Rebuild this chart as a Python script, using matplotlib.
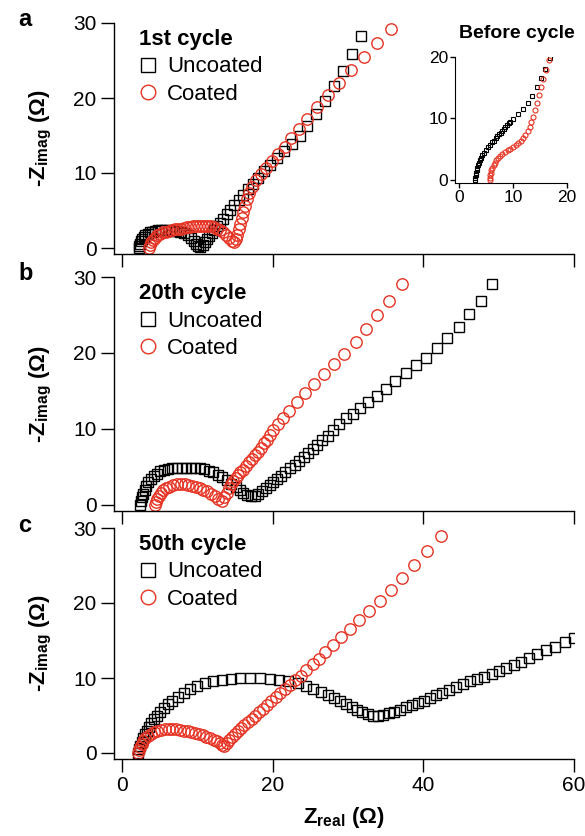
import matplotlib
matplotlib.use("Agg")
import matplotlib.pyplot as plt
from matplotlib.lines import Line2D

plt.rcParams['font.family'] = ['Liberation Sans', 'DejaVu Sans']
plt.rcParams['mathtext.fontset'] = 'custom'
plt.rcParams['mathtext.rm'] = 'Liberation Sans'
plt.rcParams['mathtext.bf'] = 'Liberation Sans:bold'

RED = '#e63323'

# ---- data (Zreal, -Zimag in ohm) ----
# panel a, 1st cycle
a_unc_x = [2.2, 2.3, 2.4, 2.5, 2.7, 2.9, 3.1, 3.4, 3.7, 4.0, 4.4, 4.8, 5.2, 5.7, 6.2, 6.7,
           7.2, 7.7, 8.2, 8.7, 9.1, 9.5, 9.8, 10.1, 10.4, 10.7, 11.0, 11.3, 11.6, 11.9, 12.2,
           12.6, 13.0, 13.4, 13.9, 14.4, 14.9, 15.5, 16.1, 16.7, 17.4, 18.1, 18.9, 19.7, 20.6,
           21.5, 22.6, 23.6, 24.6, 25.7, 26.9, 28.1, 29.3, 30.5, 31.7]
a_unc_y = [0.0, 0.3, 0.6, 0.9, 1.2, 1.5, 1.7, 1.9, 2.1, 2.2, 2.3, 2.4, 2.4, 2.4, 2.4, 2.3,
           2.3, 2.2, 2.0, 1.8, 1.4, 1.0, 0.6, 0.3, 0.2, 0.4, 0.8, 1.2, 1.6, 2.0, 2.4,
           2.9, 3.4, 3.9, 4.5, 5.1, 5.7, 6.4, 7.1, 7.8, 8.5, 9.3, 10.2, 11.0, 12.0,
           12.9, 13.8, 14.9, 16.2, 17.8, 19.6, 21.6, 23.6, 25.8, 28.2]
a_coat_x = [3.6, 3.7, 3.9, 4.1, 4.4, 4.7, 5.0, 5.4, 5.8, 6.2, 6.6, 7.0, 7.4, 7.8, 8.2, 8.6,
            9.0, 9.4, 9.8, 10.2, 10.6, 11.0, 11.4, 11.8, 12.2, 12.6, 13.0, 13.4, 13.8, 14.2,
            14.6, 14.9, 15.1, 15.3, 15.5, 15.7, 15.9, 16.1, 16.3, 16.6, 16.9, 17.3, 17.8,
            18.4, 19.1, 19.9, 20.7, 21.6, 22.5, 23.5, 24.6, 25.9, 27.3, 28.8, 30.4, 32.1,
            33.9, 35.7]
a_coat_y = [0.0, 0.4, 0.8, 1.1, 1.4, 1.7, 1.9, 2.1, 2.2, 2.3, 2.4, 2.5, 2.6, 2.6, 2.7, 2.8,
            2.8, 2.9, 2.9, 3.0, 3.0, 3.0, 3.0, 2.9, 2.8, 2.6, 2.4, 2.1, 1.7, 1.3,
            0.9, 0.8, 1.2, 1.8, 2.5, 3.2, 4.0, 4.8, 5.6, 6.5, 7.3, 8.1, 9.0,
            9.8, 10.7, 11.6, 12.5, 13.5, 14.6, 15.8, 17.2, 18.8, 20.4, 22.0, 23.7, 25.5,
            27.3, 29.2]

# inset, before cycling
i_unc_x = [3.0, 3.05, 3.1, 3.2, 3.3, 3.4, 3.5, 3.7, 3.9, 4.1, 4.3, 4.6, 5.0, 5.4, 5.7, 6.1,
           6.4, 6.8, 7.1, 7.4, 7.7, 8.0, 8.3, 8.6, 8.9, 9.2, 9.5, 10.0, 10.9, 11.8, 12.8,
           13.5, 14.4, 15.2, 15.9, 16.9]
i_unc_y = [0.0, 0.4, 0.8, 1.2, 1.6, 2.0, 2.4, 2.8, 3.2, 3.6, 4.0, 4.4, 4.9, 5.3, 5.7, 6.1,
           6.4, 6.8, 7.1, 7.4, 7.7, 8.0, 8.3, 8.6, 8.9, 9.2, 9.5, 9.9, 10.7, 11.5, 12.5,
           13.7, 15.1, 16.6, 18.0, 19.8]
i_coat_x = [5.7, 5.75, 5.8, 5.9, 6.0, 6.2, 6.4, 6.6, 6.9, 7.2, 7.6, 8.0, 8.5, 9.0, 9.5,
            10.0, 10.5, 11.0, 11.5, 11.9, 12.3, 12.7, 13.1, 13.4, 13.7, 14.0, 14.4, 14.8,
            15.2, 15.6, 16.1, 16.7]
i_coat_y = [0.0, 0.4, 0.8, 1.2, 1.6, 2.0, 2.4, 2.8, 3.2, 3.5, 3.9, 4.2, 4.5, 4.8, 5.1,
            5.4, 5.7, 6.0, 6.4, 6.8, 7.3, 7.9, 8.6, 9.4, 10.3, 11.3, 12.6, 13.9,
            15.2, 16.5, 17.9, 19.5]

# panel b, 20th cycle
b_unc_x = [2.4, 2.5, 2.6, 2.8, 3.0, 3.2, 3.5, 3.8, 4.2, 4.6, 5.1, 5.6, 6.1, 6.7, 7.3, 7.9,
           8.5, 9.1, 9.7, 10.3, 10.9, 11.5, 12.1, 12.7, 13.3, 13.9, 14.5, 15.1, 15.6, 16.1,
           16.6, 17.1, 17.6, 18.1, 18.6, 19.1, 19.6, 20.1, 20.6, 21.1, 21.7, 22.3, 22.9,
           23.5, 24.1, 24.7, 25.3, 25.9, 26.6, 27.3, 28.0, 28.8, 29.7, 30.6, 31.6, 32.7,
           33.8, 35.1, 36.3, 37.7, 39.0, 40.4, 41.8, 43.2, 44.7, 46.1, 47.6, 49.1]
b_unc_y = [0.0, 0.5, 1.0, 1.5, 2.0, 2.5, 3.0, 3.4, 3.8, 4.1, 4.4, 4.6, 4.7, 4.8, 4.9, 4.9,
           4.9, 4.9, 4.9, 4.8, 4.7, 4.5, 4.3, 4.0, 3.7, 3.3, 2.8, 2.4, 2.0, 1.6,
           1.3, 1.2, 1.2, 1.4, 1.8, 2.2, 2.6, 3.0, 3.4, 3.8, 4.3, 4.8, 5.3,
           5.8, 6.3, 6.8, 7.3, 7.9, 8.5, 9.1, 9.8, 10.6, 11.4, 12.0, 12.8, 13.6,
           14.4, 15.3, 16.3, 17.3, 18.4, 19.4, 20.6, 22.0, 23.4, 25.1, 26.9, 29.1]
b_coat_x = [4.4, 4.5, 4.7, 4.9, 5.2, 5.5, 5.9, 6.3, 6.8, 7.3, 7.8, 8.3, 8.8, 9.3, 9.8, 10.3,
            10.8, 11.3, 11.8, 12.3, 12.8, 13.3, 13.6, 13.9, 14.2, 14.5, 14.8, 15.1, 15.4,
            15.7, 16.0, 16.4, 16.8, 17.2, 17.6, 18.0, 18.4, 18.8, 19.2, 19.6, 20.1, 20.7,
            21.4, 22.2, 23.2, 24.3, 25.5, 26.8, 28.1, 29.5, 31.0, 32.4, 33.9, 35.5, 37.2]
b_coat_y = [0.0, 0.4, 0.8, 1.2, 1.6, 1.9, 2.2, 2.4, 2.6, 2.7, 2.7, 2.7, 2.6, 2.5, 2.4, 2.2,
            2.0, 1.8, 1.5, 1.2, 0.8, 0.5, 1.0, 1.6, 2.2, 2.7, 3.2, 3.6, 4.0,
            4.3, 4.6, 5.1, 5.6, 6.1, 6.6, 7.0, 7.5, 8.1, 8.6, 9.2, 9.8, 10.6,
            11.4, 12.4, 13.5, 14.7, 15.9, 17.2, 18.5, 19.9, 21.4, 23.1, 25.0, 26.8, 29.1]

# panel c, 50th cycle
c_unc_x = [2.1, 2.2, 2.4, 2.6, 2.8, 3.0, 3.3, 3.6, 3.9, 4.3, 4.7, 5.1, 5.6, 6.1, 6.7, 7.4,
           8.2, 9.0, 10.0, 11.0, 12.1, 13.3, 14.5, 15.7, 17.0, 18.3, 19.6, 20.9, 22.1, 23.3,
           24.4, 25.4, 26.4, 27.3, 28.2, 29.0, 29.8, 30.5, 31.2, 31.9, 32.6, 33.3, 34.0,
           34.7, 35.4, 36.1, 36.9, 37.7, 38.5, 39.3, 40.1, 40.9, 41.7, 42.5, 43.4, 44.3,
           45.2, 46.2, 47.1, 48.1, 49.1, 50.0, 51.0, 52.0, 53.0, 54.0, 55.1, 56.3, 57.5,
           58.8, 60.0]
c_unc_y = [0.0, 0.5, 1.0, 1.5, 2.0, 2.5, 3.0, 3.5, 4.0, 4.5, 5.0, 5.5, 6.0, 6.5, 7.0, 7.5,
           8.0, 8.5, 8.9, 9.3, 9.6, 9.8, 9.9, 10.0, 10.0, 10.0, 9.9, 9.8, 9.6, 9.3,
           9.0, 8.6, 8.2, 7.8, 7.4, 7.0, 6.6, 6.2, 5.8, 5.5, 5.2, 5.0, 5.0,
           5.1, 5.3, 5.5, 5.8, 6.1, 6.4, 6.7, 7.0, 7.4, 7.7, 8.0, 8.4, 8.8,
           9.2, 9.6, 9.9, 10.2, 10.6, 11.0, 11.4, 11.8, 12.2, 12.7, 13.2, 13.7, 14.2,
           14.8, 15.3]
c_coat_x = [2.1, 2.2, 2.4, 2.6, 2.8, 3.1, 3.4, 3.8, 4.2, 4.7, 5.2, 5.7, 6.2, 6.7, 7.2, 7.7,
            8.2, 8.7, 9.2, 9.7, 10.2, 10.7, 11.2, 11.7, 12.2, 12.6, 13.0, 13.3, 13.6, 13.9,
            14.2, 14.6, 15.0, 15.4, 15.8, 16.2, 16.7, 17.2, 17.7, 18.2, 18.7, 19.2, 19.8,
            20.4, 21.0, 21.6, 22.3, 23.0, 23.7, 24.4, 25.3, 26.2, 27.0, 28.0, 29.1, 30.3,
            31.5, 32.8, 34.2, 35.7, 37.2, 38.8, 40.5, 42.3]
c_coat_y = [0.0, 0.4, 0.8, 1.2, 1.6, 2.0, 2.3, 2.6, 2.8, 3.0, 3.1, 3.2, 3.2, 3.2, 3.2, 3.1,
            3.0, 2.9, 2.8, 2.7, 2.5, 2.4, 2.2, 2.0, 1.8, 1.6, 1.3, 1.1, 1.0, 1.3,
            1.7, 2.1, 2.5, 2.9, 3.3, 3.7, 4.1, 4.6, 5.0, 5.5, 5.9, 6.4, 6.9,
            7.5, 8.0, 8.6, 9.1, 9.7, 10.3, 11.1, 11.9, 12.6, 13.5, 14.4, 15.5, 16.5,
            17.7, 19.0, 20.3, 21.7, 23.4, 25.1, 26.9, 28.9]

panels = [
    ('a', '1st cycle', a_unc_x, a_unc_y, a_coat_x, a_coat_y),
    ('b', '20th cycle', b_unc_x, b_unc_y, b_coat_x, b_coat_y),
    ('c', '50th cycle', c_unc_x, c_unc_y, c_coat_x, c_coat_y),
]
# axes boxes in pixels: (top, bottom) of each panel
boxes = [(23, 254), (277, 511), (528, 759)]

W, H = 585, 836
fig = plt.figure(figsize=(W / 100, H / 100), dpi=100)

left, right = 114, 574
for (letter, title, ux, uy, cx, cy), (top, bot) in zip(panels, boxes):
    ax = fig.add_axes([left / W, 1 - bot / H, (right - left) / W, (bot - top) / H])
    ax.plot(ux, uy, ls='none', marker='s', ms=7.4, mfc='none', mec='black', mew=1.0)
    ax.plot(cx, cy, ls='none', marker='o', ms=8.2, mfc='none', mec=RED, mew=1.0)
    ax.set_xlim(-1.06, 60)
    ax.set_ylim(-0.8, 30)
    ax.set_xticks([0, 20, 40, 60])
    ax.set_yticks([0, 10, 20, 30])
    for s in ('top', 'right'):
        ax.spines[s].set_visible(False)
    for s in ('left', 'bottom'):
        ax.spines[s].set_linewidth(1.0)
    ax.tick_params(direction='out', length=9.5, width=1.0, labelsize=15, pad=3)
    ax.set_ylabel(r'-Z$_{\mathbf{imag}}$ (Ω)', fontsize=16, fontweight='bold')
    ax.yaxis.set_label_coords(-0.13, 0.5)
    if letter != 'c':
        ax.tick_params(labelbottom=False)
    else:
        ax.set_xlabel(r'Z$_{\mathbf{real}}$ (Ω)', fontsize=16, fontweight='bold')
        ax.xaxis.set_label_coords(0.5, -0.2)
    handles = [Line2D([], [], ls='none', marker='s', ms=10, mfc='none', mec='black', mew=1.0),
               Line2D([], [], ls='none', marker='o', ms=10.5, mfc='none', mec=RED, mew=1.0)]
    ax.legend(handles, ['Uncoated', 'Coated'], title=title, loc='upper left',
              bbox_to_anchor=(0.055, 0.975), frameon=False, fontsize=16,
              title_fontproperties={'size': 16, 'weight': 'bold'}, alignment='left',
              handlelength=0.8, handletextpad=0.45, labelspacing=0.3, borderpad=0,
              borderaxespad=0)
    fig.text(18 / W, 1 - (top - 3) / H, letter, fontsize=17, fontweight='bold', va='center')

# inset in panel a
ins = fig.add_axes([455 / W, 1 - 183 / H, (567 - 455) / W, (183 - 57) / H])
ins.plot(i_unc_x, i_unc_y, ls='none', marker='s', ms=3.4, mfc='none', mec='black', mew=0.8)
ins.plot(i_coat_x, i_coat_y, ls='none', marker='o', ms=3.6, mfc='none', mec=RED, mew=0.8)
ins.set_xlim(-0.74, 20)
ins.set_ylim(-0.49, 20)
ins.set_xticks([0, 10, 20])
ins.set_yticks([0, 10, 20])
for s in ('top', 'right'):
    ins.spines[s].set_visible(False)
ins.tick_params(direction='out', length=3.5, width=1.0, labelsize=12.5, pad=1.5)
fig.text(517 / W, 1 - 33 / H, 'Before cycle', fontsize=14, fontweight='bold',
         ha='center', va='center')

fig.savefig('out.png', dpi=100)
